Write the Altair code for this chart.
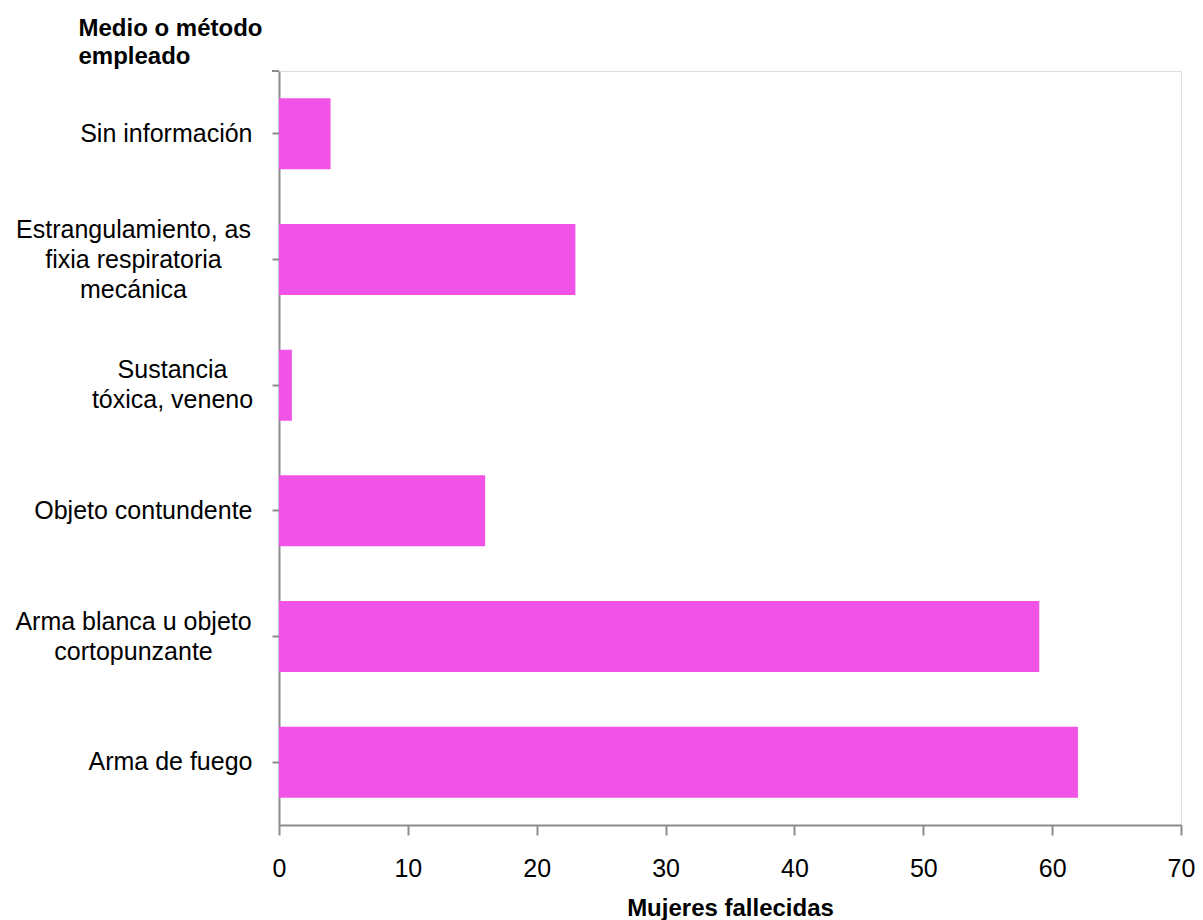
import altair as alt
import pandas as pd

categorias = [
    "Sin información",
    "Estrangulamiento, as|fixia respiratoria|mecánica",
    "Sustancia|tóxica, veneno",
    "Objeto contundente",
    "Arma blanca u objeto|cortopunzante",
    "Arma de fuego",
]
mujeres = [4, 23, 1, 16, 59, 62]
ticks_x = [0, 10, 20, 30, 40, 50, 60, 70]

df = pd.DataFrame({"medio": categorias, "mujeres": mujeres})

FONT = "Liberation Sans"
AXIS_COLOR = "#8c8c8c"
BAR_COLOR = "#F053E6"

label_padding = {
    "condition": [
        {"test": "indexof(datum.value, 'Estrangulamiento') >= 0", "value": 139},
        {"test": "indexof(datum.value, 'Arma blanca') >= 0", "value": 139},
        {"test": "indexof(datum.value, 'Sustancia') >= 0", "value": 100},
    ],
    "value": 20,
}
label_align = {
    "condition": {"test": "indexof(datum.value, '|') >= 0", "value": "center"},
    "value": "right",
}
label_offset = {
    "condition": [
        {"test": "indexof(datum.value, 'Estrangulamiento') >= 0", "value": -30},
        {"test": "indexof(datum.value, '|') >= 0", "value": -15},
    ],
    "value": 0,
}

bars = alt.Chart(df).mark_bar(color=BAR_COLOR).encode(
    x=alt.X(
        "mujeres:Q",
        scale=alt.Scale(domain=[0, 70], nice=False),
        axis=alt.Axis(
            values=ticks_x,
            title="Mujeres fallecidas",
            titleFont=FONT,
            titleFontSize=24,
            titleFontWeight="bold",
            titleColor="#000000",
            titleY=90,
            titleBaseline="alphabetic",
            labelFont=FONT,
            labelFontSize=25,
            labelColor="#000000",
            labelPadding=21,
            labelFlush=False,
            tickSize=10,
            tickWidth=2,
            tickColor=AXIS_COLOR,
            domainColor=AXIS_COLOR,
            domainWidth=2,
            grid=False,
        ),
    ),
    y=alt.Y(
        "medio:N",
        sort=categorias,
        scale=alt.Scale(paddingInner=0.435, paddingOuter=0.2175),
        axis=alt.Axis(
            title=["Medio o método", "empleado"],
            titleAngle=0,
            titleAlign="left",
            titleBaseline="alphabetic",
            titleX=-201,
            titleY=-36,
            titleLineHeight=28,
            titleFont=FONT,
            titleFontSize=24,
            titleFontWeight="bold",
            titleColor="#000000",
            labelExpr="split(datum.label, '|')",
            labelFont=FONT,
            labelFontSize=25,
            labelColor="#000000",
            labelLineHeight=30,
            labelAlign=label_align,
            labelBaseline="middle",
            labelPadding=label_padding,
            labelOffset=label_offset,
            labelLimit=400,
            tickSize=7,
            tickWidth=2,
            tickColor=AXIS_COLOR,
            domainColor=AXIS_COLOR,
            domainWidth=2,
            grid=False,
        ),
    ),
)

cap = alt.Chart(df).mark_rule(color=AXIS_COLOR, strokeWidth=2).encode(
    x=alt.value(-7), x2=alt.value(0), y=alt.value(0)
)

chart = (
    alt.layer(bars, cap)
    .properties(
        width=902,
        height=754,
        autosize=alt.AutoSizeParams(type="none"),
        padding={"left": 271, "top": 63, "right": 14, "bottom": 95},
    )
    .configure_view(stroke=None)
    .configure(background="#ffffff")
)

chart.save("out.html", embed_options={"renderer": "svg", "actions": False})
